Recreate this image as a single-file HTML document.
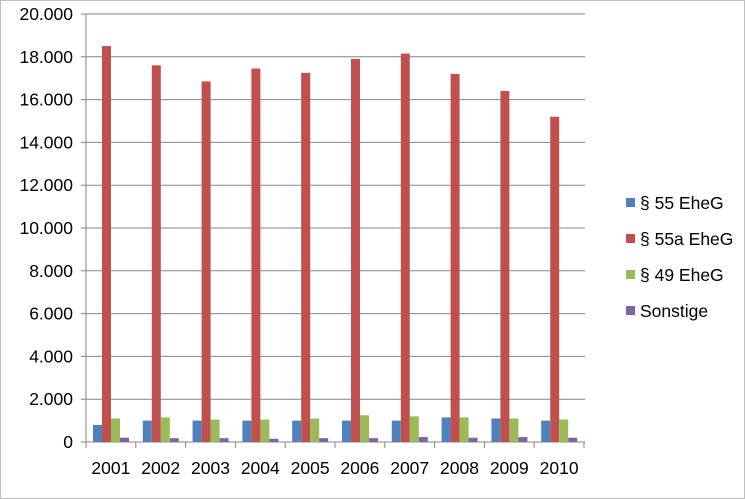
<!DOCTYPE html>
<html><head><meta charset="utf-8"><style>
body{margin:0;background:#fff;}
svg{display:block;font-family:"Liberation Sans",Calibri,sans-serif;}
</style></head><body>
<svg id="c" width="745" height="499" xmlns="http://www.w3.org/2000/svg">
<rect x="0.5" y="0.5" width="744" height="498" fill="#fff" stroke="#bfbfbf"/>
</svg>
<script>
var s=document.getElementById('c'),ns='http://www.w3.org/2000/svg';
function el(t,a,txt){var e=document.createElementNS(ns,t);for(var k in a)e.setAttribute(k,a[k]);if(txt!==undefined)e.textContent=txt;s.appendChild(e);return e;}
var y0=442,k=0.0214,L=86,R=585,cw=49.8;
for(var i=0;i<=10;i++){var v=i*2000,y=y0-v*k;
 el('line',{x1:L-5,x2:R,y1:y,y2:y,stroke:'#868686','stroke-width':1});
 el('text',{x:L-13,y:y+6,'text-anchor':'end','font-size':'17.5',fill:'#000'},v==0?'0':(v/1000).toFixed(3));}
el('line',{x1:L,x2:L,y1:14,y2:y0,stroke:'#868686'});
var d=[[800,18500,1100,200],[1000,17600,1150,180],[1000,16850,1050,180],[1000,17450,1050,150],[1000,17250,1100,180],[1000,17900,1250,180],[1000,18150,1200,230],[1150,17200,1150,200],[1100,16400,1100,230],[1000,15200,1050,200]];
var col=['#4f81bd','#c0504d','#9bbb59','#8064a2'];
for(var i=0;i<10;i++){var x0=L+cw*i;
 for(var j=0;j<4;j++){var h=d[i][j]*k;el('rect',{x:x0+7+9*j,y:y0-h,width:9,height:h,fill:col[j]});}
 el('text',{x:x0+cw/2,y:474,'text-anchor':'middle','font-size':'17.5',fill:'#000'},String(2001+i));}
for(var i=0;i<=10;i++){var x=L+cw*i;el('line',{x1:x,x2:x,y1:y0,y2:y0+6,stroke:'#868686'});}
var lab=['§ 55 EheG','§ 55a EheG','§ 49 EheG','Sonstige'];
for(var j=0;j<4;j++){var y=203+36*j;el('rect',{x:626,y:y-5,width:9,height:9,fill:col[j]});
 el('text',{x:640,y:y+6,'font-size':'17.5',fill:'#000'},lab[j]);}
</script>
</body></html>
